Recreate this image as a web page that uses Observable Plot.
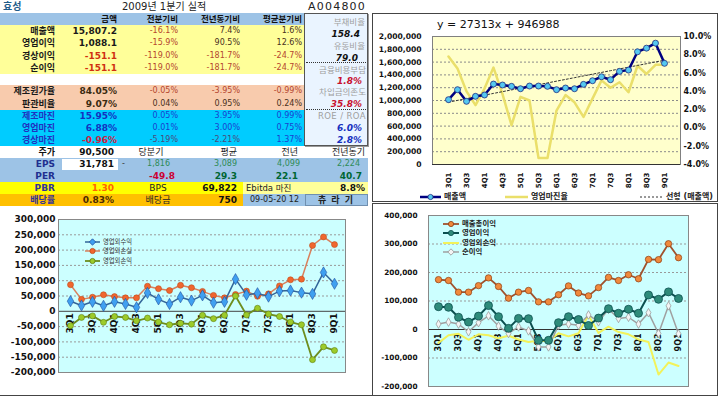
<!DOCTYPE html>
<html><head><meta charset="utf-8">
<script src="https://cdn.jsdelivr.net/npm/d3@7"></script>
<script src="https://cdn.jsdelivr.net/npm/@observablehq/plot@0.6"></script>
<style>
body{margin:0;background:#fff;font-family:"DejaVu Sans","Noto Sans CJK KR",sans-serif;}
#root{position:relative;width:720px;height:397px;overflow:hidden;background:#fff;}
.a{position:absolute;white-space:nowrap;}
</style></head><body><div id="root"></div>
<script>
// ---------- DATA ----------
const quarters = ["3Q1","3Q2","3Q3","3Q4","4Q1","4Q2","4Q3","4Q4","5Q1","5Q2","5Q3","5Q4","6Q1","6Q2","6Q3","6Q4","7Q1","7Q2","7Q3","7Q4","8Q1","8Q2","8Q3","8Q4","9Q1"];
const quarterTicks = quarters.filter((q, i) => i % 2 === 0);

const sales = [1013000,1169000,987000,1065000,1086000,1257000,1242000,1221000,1184000,1226000,1226000,1221000,1169000,1195000,1184000,1252000,1309000,1371000,1325000,1455000,1475000,1761000,1818000,1896000,1580720];
const opMargin = [7.8,6.5,4.0,2.5,4.3,6.6,3.7,0.3,3.4,3.0,-3.3,-3.3,1.9,3.6,2.8,1.2,3.2,5.2,4.4,5.0,3.9,6.8,5.9,6.9,6.9];
const trendSlope = 27313, trendIntercept = 946988;
const salesTicks = [0,200000,400000,600000,800000,1000000,1200000,1400000,1600000,1800000,2000000];
const marginTicks = [-4,-2,0,2,4,6,8,10];

const nonOpIncome = [33000,19000,31000,18000,31000,24000,13000,60000,39000,24000,46000,35000,52000,28000,31000,105000,54000,59000,48000,66000,68000,61000,57000,127000,90000];
const nonOpLoss   = [87000,39000,46000,54000,48000,44000,44000,82000,74000,68000,85000,77000,65000,52000,44000,55000,66000,49000,57000,83000,103000,105000,215000,243000,218000];
const nonOpNet    = [-47000,-20000,-15000,-36000,-17000,-20000,-31000,-22000,-35000,-44000,-39000,-42000,-13000,-24000,-13000,50000,-12000,10000,-9000,-17000,-35000,-44000,-158000,-116000,-128000];
const nonOpTicks = [-200000,-150000,-100000,-50000,0,50000,100000,150000,200000,250000,300000];

const grossProfit = [175000,172000,131000,131000,154000,181000,151000,110000,131000,137000,97000,97000,122000,153000,128000,118000,147000,183000,172000,192000,178000,246000,245000,301000,252000];
const opProfit    = [80000,78000,43000,26000,47000,84000,45000,4000,39000,38000,-38000,-38000,24000,45000,35000,14000,40000,73000,57000,71000,57000,121000,106000,132000,108810];
const netProfit   = [19000,26000,19000,-8000,24000,48000,12000,-14000,9000,-5000,-61000,-61000,15000,19000,15000,51000,27000,71000,39000,43000,19000,59000,-14000,83000,-15110];
const profitTicks = [-200000,-100000,0,100000,200000,300000,400000];

// table
const company = "효성", period = "2009년 1분기 실적", code = "A004800";
const headers = ["금액","전분기비","전년동기비","평균분기비"];
const plLabels = ["매출액","영업이익","경상이익","순이익"];
const plAmount = ["15,807.2","1,088.1","-151.1","-151.1"];
const plQoq = ["-16.1%","-15.9%","-119.0%","-119.0%"];
const plYoy = ["7.4%","90.5%","-181.7%","-181.7%"];
const plAvg = ["1.6%","12.6%","-24.7%","-24.7%"];
const costLabels = ["제조원가율","판관비율"];
const costVals = ["84.05%","9.07%"], costQoq = ["-0.05%","0.04%"], costYoy = ["-3.95%","0.95%"], costAvg = ["-0.99%","0.24%"];
const mgLabels = ["제조마진","영업마진","경상마진"];
const mgVals = ["15.95%","6.88%","-0.96%"], mgQoq = ["0.05%","0.01%","-5.19%"], mgYoy = ["3.95%","3.00%","-2.21%"], mgAvg = ["0.99%","0.75%","1.37%"];
const boxLabels = ["부채비율","유동비율","금융비용부담","차입금의존도","ROE / ROA"];
const boxVals = ["158.4","79.0","1.8%","35.8%","6.0%","2.8%"];
const priceRow = ["주가","90,500","당분기","평균","전년","전년동기"];
const epsRow = ["EPS","31,781","-","1,816","3,089","4,099","2,224"];
const perRow = ["PER","-49.8","29.3","22.1","40.7"];
const pbrRow = ["PBR","1.30","BPS","69,822","Ebitda 마진","8.8%"];
const divRow = ["배당률","0.83%","배당금","750","09-05-20 12","츄 라 기"];
const legendSales = ["매출액","영업마진율","선형 (매출액)"];
const legendNonOp = ["영업외수익","영업외손실","영업외손익"];
const legendProfit = ["매출총이익","영업이익","영업외손익","순이익"];

// ---------- HELPERS ----------
const root = document.getElementById("root");
function box(l,t,w,h,css){const d=document.createElement("div");d.className="a";d.style.cssText=`left:${l}px;top:${t}px;width:${w}px;height:${h}px;`+(css||"");root.appendChild(d);return d;}
function txt(s,l,t,w,h,css){const d=box(l,t,w,h,`line-height:${h}px;`+(css||""));d.textContent=s;return d;}
function rt(s,right,t,h,css){return txt(s,right-90,t,90,h,"text-align:right;"+(css||""));}
function ct(s,center,t,h,css){return txt(s,center-45,t,90,h,"text-align:center;"+(css||""));}
const fmtNum = v => (v < 0 ? "-" : "") + d3.format(",")(Math.abs(v));
const neg = s => s.trim().startsWith("-");

// ---------- TABLE ----------
txt(company,3,0,40,13,"font-size:10px;font-weight:bold;color:#1F5C8A;");
txt(period,122,0,100,13,"font-size:10px;color:#222;");
rt(code,366,0,13,"font-size:11px;color:#222;letter-spacing:1.2px;");
const cR = [55,117,178,240,302];
box(0,13,304,12,"background:#9DC3E6;");
headers.forEach((h,i)=>rt(h,cR[i+1],13,12,"font-size:8.5px;font-weight:bold;color:#111;"));
box(0,25,304,49,"background:#FFFF99;");
plLabels.forEach((lab,i)=>{
  const t=25+i*12.25,h=12.25;
  rt(lab,cR[0],t,h,"font-size:9px;font-weight:bold;color:#1a1a1a;");
  rt(plAmount[i],cR[1],t,h,`font-size:9px;font-weight:bold;color:${neg(plAmount[i])?"#D03010":"#1a1a1a"};`);
  [plQoq,plYoy,plAvg].forEach((arr,j)=>rt(arr[i],cR[j+2],t,h,`font-size:8px;color:${neg(arr[i])?"#B5462E":"#4a3020"};`));
});
box(0,85,304,25,"background:#F8CBAD;");
costLabels.forEach((lab,i)=>{
  const t=85+i*12.5,h=12.5;
  rt(lab,cR[0],t,h,"font-size:9px;font-weight:bold;color:#1a1a1a;");
  rt(costVals[i],cR[1],t,h,"font-size:9px;font-weight:bold;color:#3a2a10;");
  [costQoq,costYoy,costAvg].forEach((arr,j)=>rt(arr[i],cR[j+2],t,h,`font-size:8px;color:${neg(arr[i])?"#B5462E":"#4a3020"};`));
});
box(0,110,304,36,"background:#00CCFF;");
mgLabels.forEach((lab,i)=>{
  const t=110+i*12,h=12;
  rt(lab,cR[0],t,h,"font-size:9px;font-weight:bold;color:#2030C0;");
  rt(mgVals[i],cR[1],t,h,`font-size:9px;font-weight:bold;color:${neg(mgVals[i])?"#D02040":"#1530C0"};`);
  [mgQoq,mgYoy,mgAvg].forEach((arr,j)=>rt(arr[i],cR[j+2],t,h,`font-size:8px;color:${neg(arr[i])?"#4a4a7a":"#1A3FD0"};`));
});
// right box
box(304,13,64,133,"background:#EAF4FF;border:1px solid #555;box-sizing:border-box;box-shadow:1px 1px 0 #999;");
box(306,62,60,0,"border-top:1px dotted #333;");
box(306,109,60,0,"border-top:1px dotted #333;");
const bLab = "font-size:8.5px;color:#A0A0A0;";
rt(boxLabels[0],365,16,12,bLab);
rt(boxVals[0],360,28,12,"font-size:9px;font-weight:bold;font-style:italic;color:#111;");
rt(boxLabels[1],365,40,12,bLab);
rt(boxVals[1],358,52,12,"font-size:9px;font-weight:bold;font-style:italic;color:#111;");
rt(boxLabels[2],366,64,12,bLab);
rt(boxVals[2],362,75,12,"font-size:9px;font-weight:bold;font-style:italic;color:#C8102E;");
rt(boxLabels[3],366,86,12,bLab);
rt(boxVals[3],362,98,12,"font-size:9px;font-weight:bold;font-style:italic;color:#C8102E;");
rt(boxLabels[4],366,110,12,bLab+"letter-spacing:0.4px;");
rt(boxVals[4],362,122,12,"font-size:9px;font-weight:bold;font-style:italic;color:#1530C0;");
rt(boxVals[5],362,134,12,"font-size:9px;font-weight:bold;font-style:italic;color:#1530C0;");
// price row
rt(priceRow[0],cR[0],146,12,"font-size:9px;font-weight:bold;color:#111;");
rt(priceRow[1],114,146,12,"font-size:9px;font-weight:bold;color:#111;");
ct(priceRow[2],151,146,12,"font-size:9px;color:#222;");
rt(priceRow[3],237,146,12,"font-size:9px;color:#222;");
rt(priceRow[4],298,146,12,"font-size:9px;color:#222;");
rt(priceRow[5],365,146,12,"font-size:9px;color:#222;");
// EPS / PER
box(0,158,368,24,"background:#9DC3E6;");
box(62,159,56,11,"background:#fff;");
rt(epsRow[0],cR[0],158,12,"font-size:9px;font-weight:bold;color:#1F2F8F;");
rt(epsRow[1],114,158,12,"font-size:9px;font-weight:bold;color:#111;");
txt(epsRow[2],122,158,8,12,"font-size:8px;color:#333;");
[[epsRow[3],170],[epsRow[4],237],[epsRow[5],300],[epsRow[6],360]].forEach(([s,r])=>rt(s,r,158,12,"font-size:8px;color:#2E8B57;"));
rt(perRow[0],cR[0],170,12,"font-size:9px;font-weight:bold;color:#1F2F8F;");
rt(perRow[1],175,170,12,"font-size:9px;font-weight:bold;color:#CC0033;");
[[perRow[2],237],[perRow[3],298],[perRow[4],362]].forEach(([s,r])=>rt(s,r,170,12,"font-size:9px;font-weight:bold;color:#006633;"));
// PBR
box(0,182,243,12,"background:#FFFF00;");
box(243,182,125,12,"background:#FFFF99;");
rt(pbrRow[0],cR[0],182,12,"font-size:9px;font-weight:bold;color:#333399;");
rt(pbrRow[1],114,182,12,"font-size:9px;font-weight:bold;color:#FF6600;");
ct(pbrRow[2],158,182,12,"font-size:9px;color:#222;");
rt(pbrRow[3],237,182,12,"font-size:9px;font-weight:bold;color:#111;");
txt(pbrRow[4],246,182,60,12,"font-size:8.5px;color:#222;");
rt(pbrRow[5],365,182,12,"font-size:9px;font-weight:bold;color:#111;");
// dividend
box(0,194,243,12,"background:#FFC000;");
box(243,194,125,12,"background:#9DC3E6;");
box(305,194,63,12,"border:1px solid #7090B0;box-sizing:border-box;");
rt(divRow[0],cR[0],194,12,"font-size:9px;font-weight:bold;color:#333399;");
rt(divRow[1],114,194,12,"font-size:9px;font-weight:bold;color:#4a2a00;");
ct(divRow[2],158,194,12,"font-size:9px;color:#222;");
rt(divRow[3],237,194,12,"font-size:9px;font-weight:bold;color:#111;");
txt(divRow[4],250,194,55,12,"font-size:8px;color:#222;");
ct(divRow[5],336,194,12,"font-size:9px;font-weight:bold;color:#222;letter-spacing:1px;");

// ---------- PANELS ----------
box(372,13,346,189,"border:1px solid #444;box-sizing:border-box;");
box(372,203,346,193,"border:1px solid #444;box-sizing:border-box;");
box(0,395,372,1,"background:#444;");

function place(el,l,t){const w=document.createElement("div");w.className="a";w.style.left=l+"px";w.style.top=t+"px";w.appendChild(el);root.appendChild(w);}
const baseStyle = fs => ({fontFamily:"DejaVu Sans, Noto Sans CJK KR",fontSize:fs+"px",fontWeight:"bold",color:"#111",background:"transparent",overflow:"visible"});

// ---------- CHART 1: sales & margin ----------
const salesMax = 2000000, mMin = -4, mMax = 10;
const pctToY = p => (p - mMin) / (mMax - mMin) * salesMax;
const yToPct = y => y / salesMax * (mMax - mMin) + mMin;
const salesData = quarters.map((q,i)=>({q, sales: sales[i], margin: opMargin[i], trend: trendSlope*(i+1)+trendIntercept}));
const chart1 = Plot.plot({
  width:343, height:186, marginLeft:59, marginRight:36, marginTop:22, marginBottom:36,
  style: baseStyle(7.6),
  x:{type:"point", domain:quarters, padding:0.5, axis:null},
  y:{domain:[0,salesMax], axis:null, label:null},
  marks:[
    Plot.frame({fill:"#FFFFCC"}),
    Plot.gridY(salesTicks.filter(v=>v>0), {stroke:"#8a8a8a", strokeOpacity:1, strokeDasharray:"2,2"}),
    Plot.axisY({ticks:salesTicks, tickFormat:fmtNum, tickSize:0, tickPadding:11, label:null}),
    Plot.axisY({anchor:"right", ticks:marginTicks.map(pctToY), tickFormat:v=>yToPct(v).toFixed(1)+"%", tickSize:0, tickPadding:3, label:null, fontSize:8}),
    Plot.line(salesData, {x:"q", y:d=>pctToY(d.margin), stroke:"#EADF6A", strokeWidth:2.5}),
    Plot.line(salesData, {x:"q", y:"trend", stroke:"#333", strokeWidth:1, strokeDasharray:"2,2"}),
    Plot.line(salesData, {x:"q", y:"sales", stroke:"#000080", strokeWidth:2.5}),
    Plot.dot(salesData, {x:"q", y:"sales", r:3, fill:"#55C8F0", stroke:"#1A2A80", strokeWidth:0.8}),
    Plot.frame({stroke:"#808080"}),
    Plot.ruleY([0], {stroke:"#333"}),
    Plot.text(quarterTicks, {x:d=>d, y:0, rotate:-90, textAnchor:"end", dy:8, fontSize:7, fontWeight:"bold"})
  ]
});
place(chart1,373,14);
txt(`y = ${trendSlope}x + ${trendIntercept}`,437,18,140,14,"font-size:11px;color:#111;");

function legend(x,y,w,color,sw,dash,marker,mfill,mstroke,label,font){
  const d=document.createElement("div");d.className="a";
  d.style.cssText=`left:${x}px;top:${y-5}px;height:10px;display:flex;align-items:center;`;
  const c=w/2;
  let m="";
  if(marker==="circle") m=`<circle cx="${c}" cy="5" r="2.6" fill="${mfill}" stroke="${mstroke}" stroke-width="0.8"/>`;
  if(marker==="diamond") m=`<path d="M${c},1.8L${c+3.2},5L${c},8.2L${c-3.2},5Z" fill="${mfill}" stroke="${mstroke}" stroke-width="0.8"/>`;
  d.innerHTML=`<svg width="${w}" height="10" style="display:block"><line x1="0" x2="${w}" y1="5" y2="5" stroke="${color}" stroke-width="${sw}" ${dash?`stroke-dasharray="${dash}"`:""}/>${m}</svg><span style="margin-left:3px;line-height:10px;${font}">${label}</span>`;
  root.appendChild(d);
}
const lf1="font-size:8px;font-weight:bold;color:#222;";
legend(420,197,21,"#000080",2.5,null,"circle","#55C8F0","#1A2A80",legendSales[0],lf1);
legend(505,197,23,"#EADF6A",2.5,null,null,null,null,legendSales[1],lf1);
legend(640,197,23,"#333",1,"2,2",null,null,null,legendSales[2],lf1);

// ---------- CHART 2: non-operating ----------
const nonOpData = quarters.map((q,i)=>({q, inc:nonOpIncome[i], loss:nonOpLoss[i], net:nonOpNet[i]}));
const chart2 = Plot.plot({
  width:370, height:190, marginLeft:58, marginRight:25, marginTop:14, marginBottom:23,
  style: baseStyle(9),
  x:{type:"point", domain:quarters, padding:0.5, axis:null},
  y:{domain:[-200000,300000], axis:null, label:null},
  marks:[
    Plot.frame({fill:"#CCFFFF"}),
    Plot.gridY(nonOpTicks.filter(v=>v!==0), {stroke:"#999", strokeOpacity:1, strokeDasharray:"2,2"}),
    Plot.axisY({ticks:nonOpTicks, tickFormat:fmtNum, tickSize:0, tickPadding:3, label:null}),
    Plot.ruleY([0], {stroke:"#444"}),
    Plot.text(quarterTicks, {x:d=>d, y:0, rotate:-90, textAnchor:"end", dy:2, fontSize:9, fontWeight:"bold"}),
    Plot.line(nonOpData, {x:"q", y:"loss", stroke:"#D9805C", strokeWidth:1.5}),
    Plot.dot(nonOpData, {x:"q", y:"loss", r:3, fill:"#F0662E", stroke:"#C04A18", strokeWidth:0.6}),
    Plot.line(nonOpData, {x:"q", y:"inc", stroke:"#336699", strokeWidth:1.5}),
    Plot.dot(nonOpData, {x:"q", y:"inc", symbol:"diamond", r:3.4, fill:"#3FA0F0", stroke:"#1F4F9F", strokeWidth:0.6}),
    Plot.line(nonOpData, {x:"q", y:"net", stroke:"#6E8E1E", strokeWidth:1.8}),
    Plot.dot(nonOpData, {x:"q", y:"net", r:3, fill:"#9CCB2A", stroke:"#5E7E10", strokeWidth:0.6}),
    Plot.frame({stroke:"#888"})
  ]
});
place(chart2,0,205);
const lf2="font-size:6.3px;color:#333;";
legend(85,242,15,"#336699",1.5,null,"diamond","#3FA0F0","#1F4F9F",legendNonOp[0],lf2);
legend(85,251,15,"#D9805C",1.5,null,"circle","#F0662E","#C04A18",legendNonOp[1],lf2);
legend(85,261,15,"#6E8E1E",1.8,null,"circle","#9CCB2A","#5E7E10",legendNonOp[2],lf2);

// ---------- CHART 3: profits ----------
const profitData = quarters.map((q,i)=>({q, gross:grossProfit[i], op:opProfit[i], nonop:nonOpNet[i], net:netProfit[i]}));
const chart3 = Plot.plot({
  width:343, height:190, marginLeft:55, marginRight:28, marginTop:11, marginBottom:8,
  style: baseStyle(7.3),
  x:{type:"point", domain:quarters, padding:0.5, axis:null},
  y:{domain:[-200000,400000], axis:null, label:null},
  marks:[
    Plot.frame({fill:"#CCFFFF"}),
    Plot.gridY(profitTicks.filter(v=>v!==0), {stroke:"#999", strokeOpacity:1, strokeDasharray:"2,2"}),
    Plot.axisY({ticks:profitTicks, tickFormat:fmtNum, tickSize:0, tickPadding:11, label:null}),
    Plot.ruleY([0], {stroke:"#333"}),
    Plot.text(quarterTicks, {x:d=>d, y:0, rotate:-90, textAnchor:"end", dy:4, fontSize:8, fontWeight:"bold"}),
    Plot.line(profitData, {x:"q", y:"nonop", stroke:"#F2F25A", strokeWidth:2}),
    Plot.line(profitData, {x:"q", y:"net", stroke:"#A0A0A0", strokeWidth:1.5}),
    Plot.dot(profitData, {x:"q", y:"net", symbol:"diamond", r:2.6, fill:"#F4F4F4", stroke:"#909090", strokeWidth:0.7}),
    Plot.line(profitData, {x:"q", y:"op", stroke:"#0B4F4F", strokeWidth:2}),
    Plot.dot(profitData, {x:"q", y:"op", r:4, fill:"#2E8B7A", stroke:"#0B4F4F", strokeWidth:0.8}),
    Plot.line(profitData, {x:"q", y:"gross", stroke:"#A0522D", strokeWidth:1.8}),
    Plot.dot(profitData, {x:"q", y:"gross", r:3.2, fill:"#F08A3C", stroke:"#8B3A0F", strokeWidth:0.7}),
    Plot.frame({stroke:"#888"})
  ]
});
place(chart3,373,204);
const lf3="font-size:7.4px;font-weight:bold;color:#222;";
legend(443,224,16,"#A0522D",1.8,null,"circle","#F08A3C","#8B3A0F",legendProfit[0],lf3);
legend(443,233,16,"#0B4F4F",2,null,"circle","#2E8B7A","#0B4F4F",legendProfit[1],lf3);
legend(443,243,16,"#F2F25A",2,null,null,null,null,legendProfit[2],lf3);
legend(443,252,16,"#A0A0A0",1.5,null,"diamond","#F4F4F4","#909090",legendProfit[3],lf3);
</script></body></html>
